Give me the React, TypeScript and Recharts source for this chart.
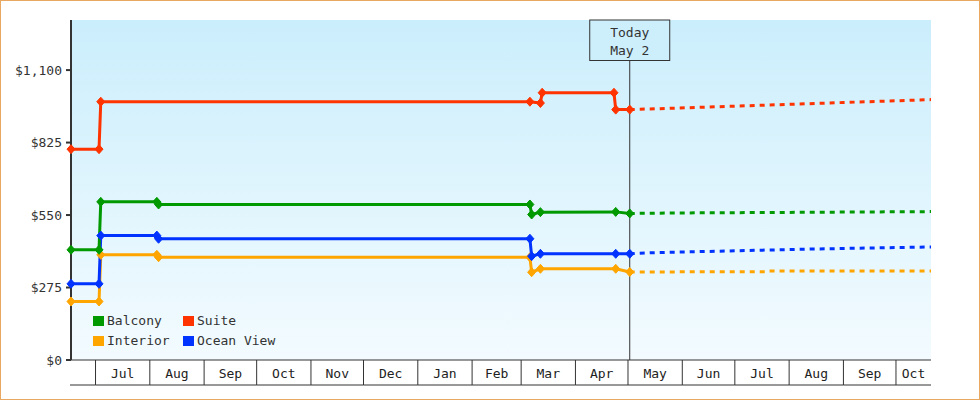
import React from "react";
import { LineChart, Line, XAxis, YAxis, CartesianGrid, ReferenceLine, Legend } from "recharts";

const FONT = '"DejaVu Sans Mono", monospace';
const INK = "#333";

// actual prices (change points only)
const BALCONY_DATES = ["2024-06-17", "2024-07-03", "2024-07-04", "2024-08-05", "2024-08-06", "2025-03-06", "2025-03-07", "2025-03-12", "2025-04-24", "2025-05-02"];
const BALCONY_PRICES = [418, 418, 600, 600, 590, 590, 552, 561, 562, 556];
const SUITE_DATES = ["2024-06-17", "2024-07-03", "2024-07-04", "2025-03-06", "2025-03-12", "2025-03-13", "2025-04-23", "2025-04-24", "2025-05-02"];
const SUITE_PRICES = [800, 800, 980, 980, 975, 1014, 1014, 950, 950];
const INTERIOR_DATES = ["2024-06-17", "2024-07-03", "2024-07-04", "2024-08-05", "2024-08-06", "2025-03-06", "2025-03-07", "2025-03-12", "2025-04-24", "2025-05-02"];
const INTERIOR_PRICES = [222, 222, 399, 399, 390, 390, 333, 346, 346, 334];
const OCEAN_DATES = ["2024-06-17", "2024-07-03", "2024-07-04", "2024-08-05", "2024-08-06", "2025-03-06", "2025-03-07", "2025-03-12", "2025-04-24", "2025-05-02"];
const OCEAN_PRICES = [289, 289, 472, 472, 460, 460, 394, 403, 403, 403];

// forecast (dashed)
const BALCONY_FC_DATES = ["2025-05-02", "2025-06-01", "2025-08-01", "2025-10-21"];
const BALCONY_FC = [556, 558, 560, 563];
const SUITE_FC_DATES = ["2025-05-02", "2025-07-01", "2025-09-01", "2025-10-21"];
const SUITE_FC = [950, 963, 977, 988];
const INTERIOR_FC_DATES = ["2025-05-02", "2025-07-19", "2025-07-20", "2025-10-21"];
const INTERIOR_FC = [334, 335, 338, 338];
const OCEAN_FC_DATES = ["2025-05-02", "2025-05-14", "2025-08-14", "2025-10-21"];
const OCEAN_FC = [403, 407, 421, 429];

const MONTH_TICKS = ["2024-06-17", "2024-07-01", "2024-08-01", "2024-09-01", "2024-10-01", "2024-11-01", "2024-12-01", "2025-01-01", "2025-02-01", "2025-03-01", "2025-04-01", "2025-05-01", "2025-06-01", "2025-07-01", "2025-08-01", "2025-09-01", "2025-10-01"];
const MONTH_LABELS = ["", "Jul", "Aug", "Sep", "Oct", "Nov", "Dec", "Jan", "Feb", "Mar", "Apr", "May", "Jun", "Jul", "Aug", "Sep", "Oct"];
const Y_TICKS = [0, 275, 550, 825, 1100];
const X_START = "2024-06-17";
const X_END = "2025-10-21";
const TODAY = "2025-05-02";

const COLORS = { balcony: "#009900", suite: "#ff3300", interior: "#ffa500", ocean: "#0033ff" };
const LEGEND_ORDER = ["Balcony", "Suite", "Interior", "Ocean View"];

const W = 980;
const H = 400;
const MARGIN = { top: 20, right: 49, left: 0, bottom: 0 };
const Y_WIDTH = 71;
const PLOT_WIDTH = W - MARGIN.left - MARGIN.right - Y_WIDTH;

const ts = (d: string) => {
  const [y, m, day] = d.split("-").map(Number);
  return Date.UTC(y, m - 1, day);
};
const rows = (dates: string[], vals: number[]) => dates.map((d, i) => ({ t: ts(d), v: vals[i] }));

const tickT = MONTH_TICKS.map(ts);
const startT = ts(X_START);
const endT = ts(X_END);

function MonthTick(props: any) {
  const { x, y, payload } = props;
  const i = tickT.indexOf(payload.value);
  const next = i + 1 < tickT.length ? tickT[i + 1] : endT;
  const w = ((next - payload.value) * PLOT_WIDTH) / (endT - startT);
  const label = MONTH_LABELS[i];
  return (
    <g>
      {i > 0 && <line x1={x} y1={y} x2={x} y2={y + 25} stroke={INK} strokeWidth={1} />}
      <line x1={i === 0 ? x - 1 : x} y1={y + 25} x2={x + w} y2={y + 25} stroke={INK} strokeWidth={1} />
      {label && w > 30 && (
        <text x={x + w / 2} y={y + 13} textAnchor="middle" dominantBaseline="central" fontFamily={FONT} fontSize={13} fill="#222">
          {label}
        </text>
      )}
    </g>
  );
}

function TodayLabel(props: any) {
  const vb = props.viewBox || {};
  const cx = (vb.x ?? 0) + (vb.width ?? 0) / 2;
  const top = vb.y ?? 20;
  return (
    <g>
      <rect x={cx - 40} y={top} width={80} height={40.5} fill="#cdeffc" stroke={INK} strokeWidth={1} />
      <text x={cx} y={top + 12.5} textAnchor="middle" dominantBaseline="central" fontFamily={FONT} fontSize={13} fill={INK}>Today</text>
      <text x={cx} y={top + 30.5} textAnchor="middle" dominantBaseline="central" fontFamily={FONT} fontSize={13} fill={INK}>May 2</text>
    </g>
  );
}

const diamond = (color: string) => (p: any) => {
  const { cx, cy, index } = p;
  if (cx == null || cy == null) return <g key={index} />;
  return <path key={index} d={`M${cx},${cy - 4.5}L${cx + 4},${cy}L${cx},${cy + 4.5}L${cx - 4},${cy}Z`} fill={color} stroke={color} strokeWidth={1} />;
};

function LegendContent(props: any) {
  const payload = props.payload || [];
  const items = LEGEND_ORDER.map((n) => payload.find((p: any) => p.value === n)).filter(Boolean);
  return (
    <div style={{ display: "grid", gridTemplateColumns: "90px 120px", fontFamily: FONT, fontSize: 13, color: INK }}>
      {items.map((p: any) => (
        <div key={p.value} style={{ display: "flex", alignItems: "center", height: 20 }}>
          <span style={{ display: "inline-block", width: 11, height: 10, background: p.color, marginRight: 3 }} />
          <span style={{ lineHeight: "20px", whiteSpace: "nowrap" }}>{p.value}</span>
        </div>
      ))}
    </div>
  );
}

export default function App() {
  const actual = [
    { name: "Interior", color: COLORS.interior, data: rows(INTERIOR_DATES, INTERIOR_PRICES) },
    { name: "Ocean View", color: COLORS.ocean, data: rows(OCEAN_DATES, OCEAN_PRICES) },
    { name: "Balcony", color: COLORS.balcony, data: rows(BALCONY_DATES, BALCONY_PRICES) },
    { name: "Suite", color: COLORS.suite, data: rows(SUITE_DATES, SUITE_PRICES) },
  ];
  const forecast = [
    { name: "Interior fc", color: COLORS.interior, data: rows(INTERIOR_FC_DATES, INTERIOR_FC) },
    { name: "Ocean View fc", color: COLORS.ocean, data: rows(OCEAN_FC_DATES, OCEAN_FC) },
    { name: "Balcony fc", color: COLORS.balcony, data: rows(BALCONY_FC_DATES, BALCONY_FC) },
    { name: "Suite fc", color: COLORS.suite, data: rows(SUITE_FC_DATES, SUITE_FC) },
  ];

  return (
    <div style={{ position: "absolute", left: 0, top: 0, width: W, height: H, background: "#fff" }}>
      <LineChart width={W} height={H} margin={MARGIN}>
        <defs>
          <linearGradient id="plotBg" x1="0" y1="0" x2="0" y2="1">
            <stop offset="0%" stopColor="#cbeefc" />
            <stop offset="100%" stopColor="#f3fbff" />
          </linearGradient>
        </defs>
        <CartesianGrid horizontal={false} vertical={false} fill="url(#plotBg)" stroke="none" />
        <XAxis
          type="number"
          dataKey="t"
          domain={[startT, endT]}
          ticks={tickT}
          interval={0}
          tickLine={false}
          tickSize={0}
          tickMargin={0}
          height={40}
          axisLine={{ stroke: INK, strokeWidth: 1 }}
          tick={<MonthTick />}
        />
        <YAxis
          type="number"
          domain={[0, 1290]}
          ticks={Y_TICKS}
          width={Y_WIDTH}
          tickSize={5}
          tickMargin={4}
          axisLine={{ stroke: INK, strokeWidth: 2 }}
          tickLine={{ stroke: INK, strokeWidth: 2 }}
          tick={{ fontSize: 13, fill: INK, fontFamily: FONT }}
          tickFormatter={(v: number) => `$${v.toLocaleString("en-US")}`}
        />
        <ReferenceLine x={ts(TODAY)} stroke={INK} strokeWidth={1} label={<TodayLabel />} />
        {forecast.map((s) => (
          <Line
            key={s.name}
            data={s.data}
            dataKey="v"
            name={s.name}
            type="linear"
            stroke={s.color}
            strokeWidth={3}
            strokeDasharray="5 5"
            dot={false}
            activeDot={false}
            legendType="none"
            isAnimationActive={false}
          />
        ))}
        {actual.map((s) => (
          <Line
            key={s.name}
            data={s.data}
            dataKey="v"
            name={s.name}
            type="linear"
            stroke={s.color}
            strokeWidth={3}
            dot={diamond(s.color)}
            activeDot={false}
            isAnimationActive={false}
          />
        ))}
        <Legend
          layout="horizontal"
          verticalAlign="middle"
          align="center"
          content={LegendContent}
          wrapperStyle={{ left: 93, top: 311, width: 220, height: 40 }}
        />
      </LineChart>
      <div
        style={{
          position: "absolute",
          left: 0,
          top: 0,
          width: W,
          height: H,
          border: "1px solid #e9a862",
          boxSizing: "border-box",
          pointerEvents: "none",
        }}
      />
    </div>
  );
}
